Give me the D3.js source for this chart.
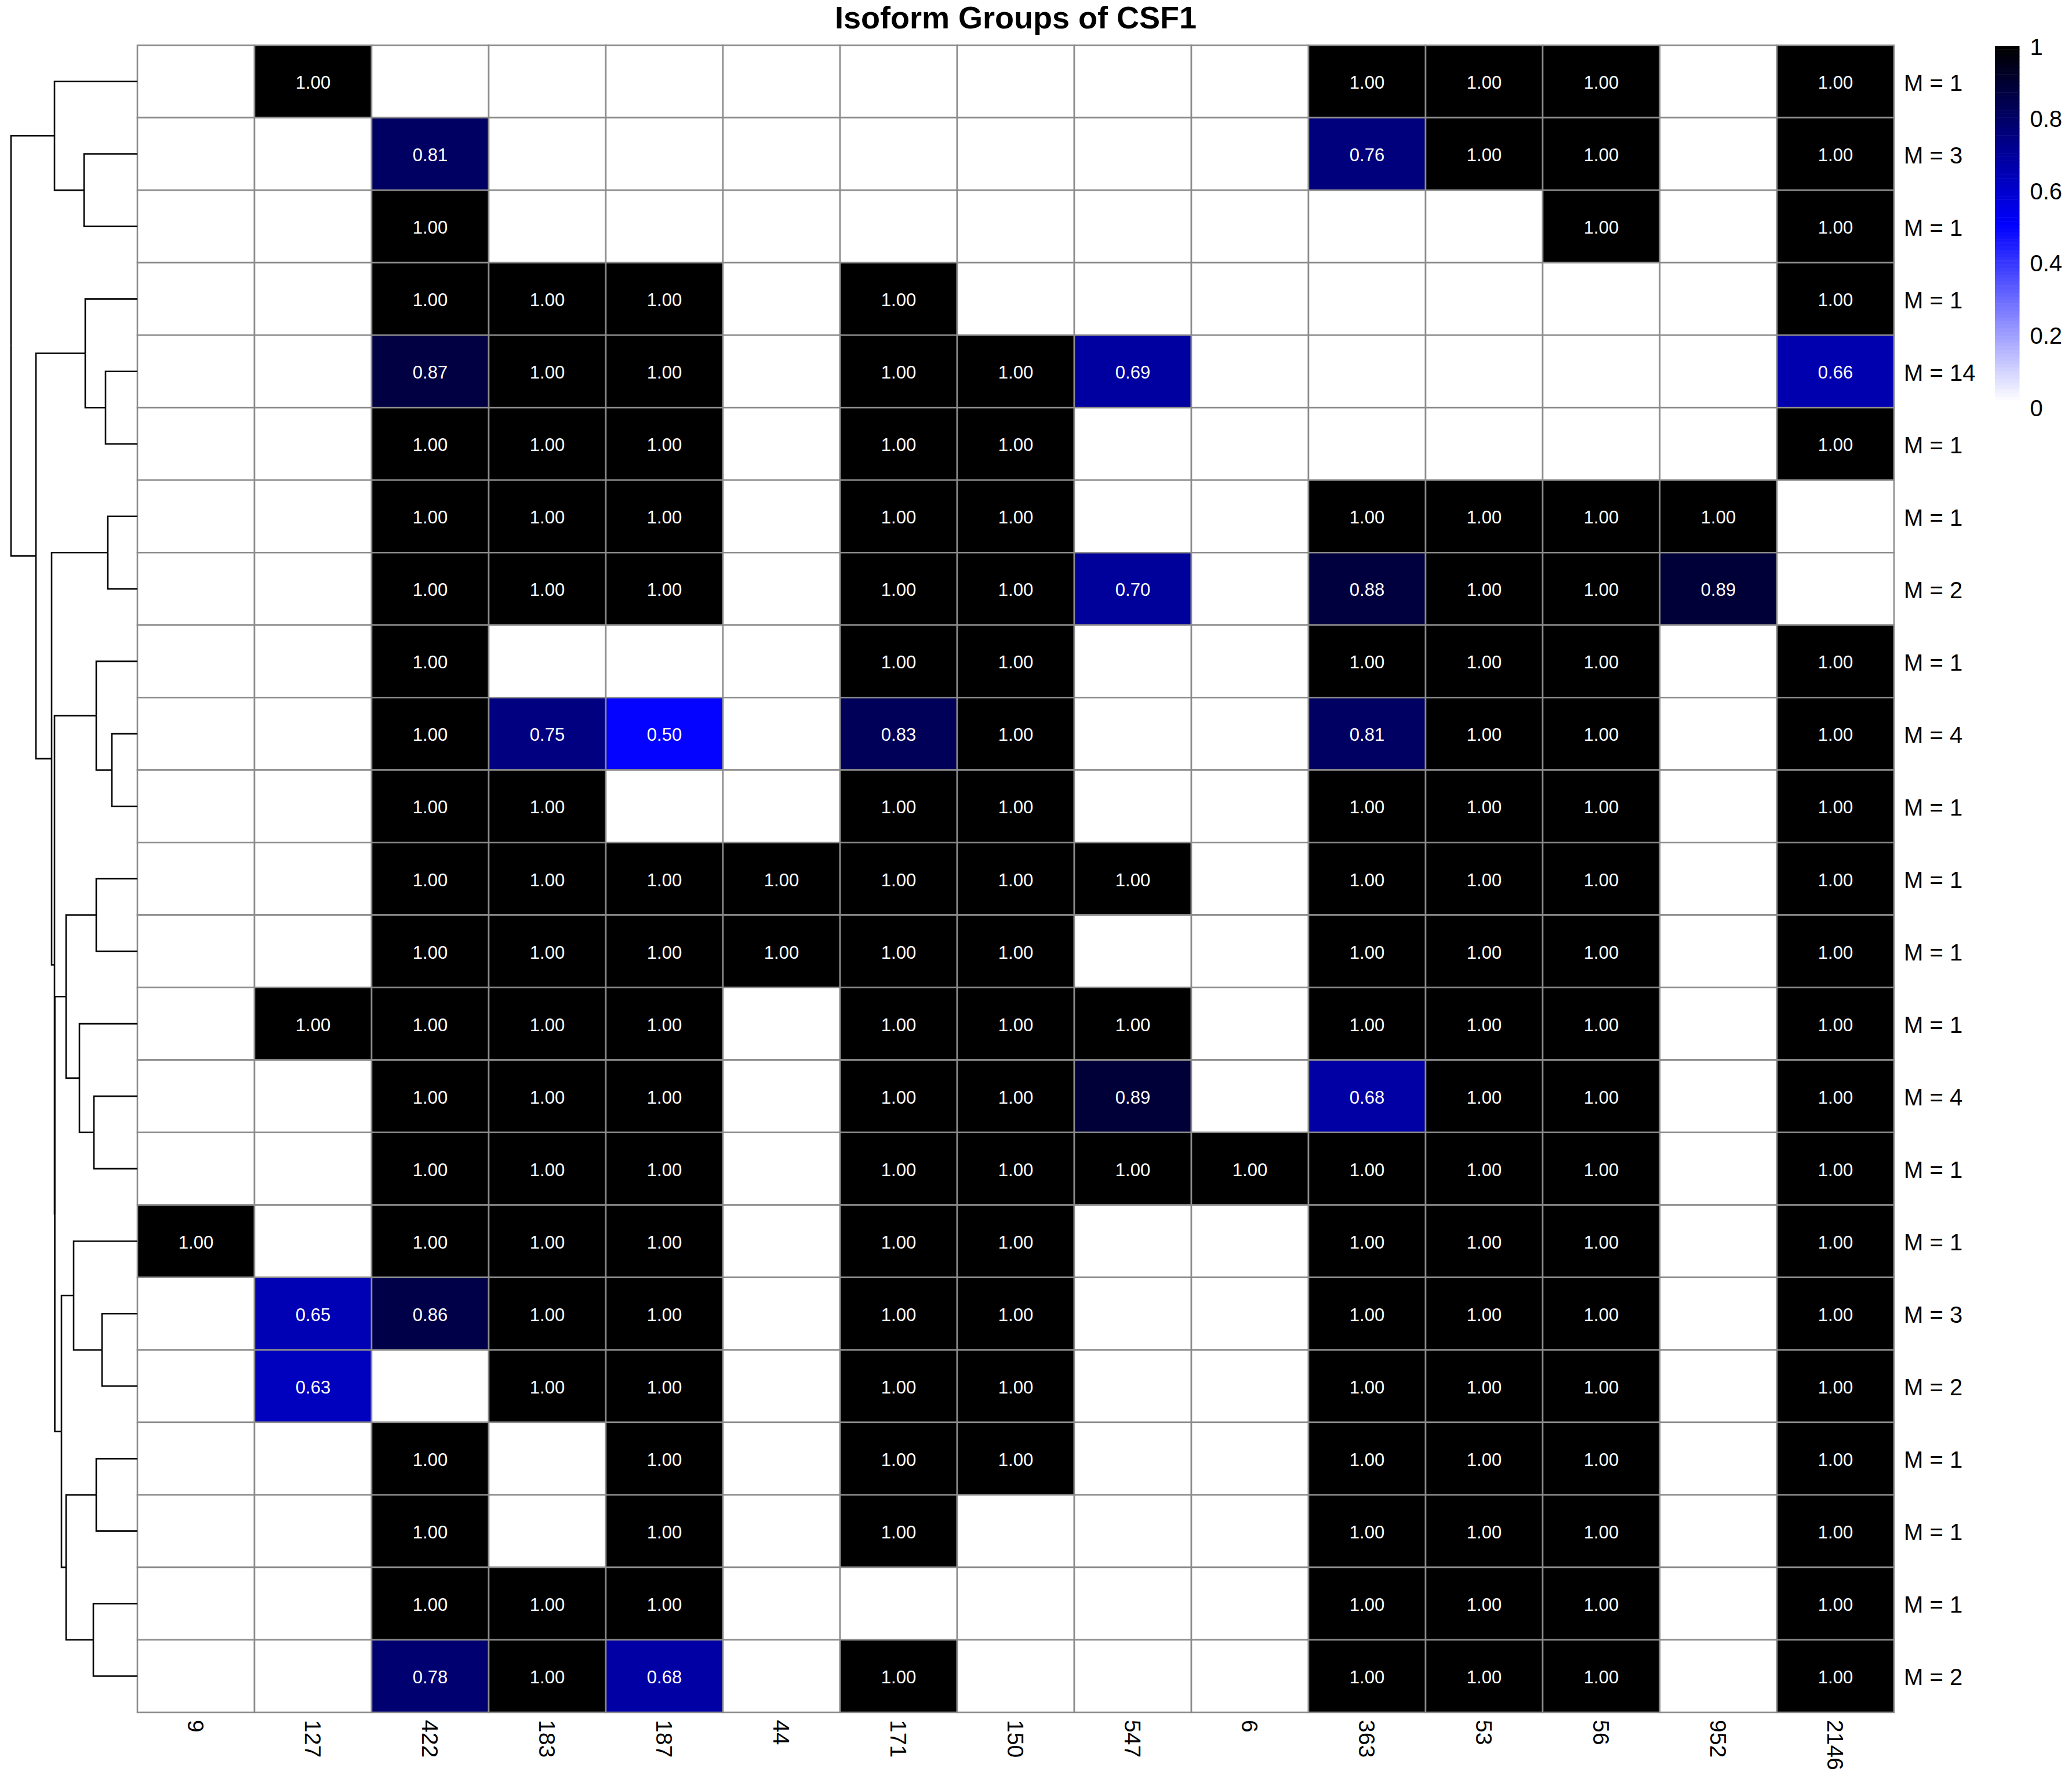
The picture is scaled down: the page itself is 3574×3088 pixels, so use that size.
<!DOCTYPE html>
<html>
<head>
<meta charset="utf-8">
<script src="https://cdn.jsdelivr.net/npm/d3@7"></script>
<style>
  html, body { margin: 0; padding: 0; background: #fff; }
  svg { display: block; }
  text { font-family: "Liberation Sans", Arial, Helvetica, sans-serif; }
</style>
</head>
<body>
<script>
// ---------------- DATA ----------------
const title = "Isoform Groups of CSF1";
const columns = ["9", "127", "422", "183", "187", "44", "171", "150", "547", "6", "363", "53", "56", "952", "2146"];
const rowLabels = ["M = 1", "M = 3", "M = 1", "M = 1", "M = 14", "M = 1", "M = 1", "M = 2", "M = 1", "M = 4",
                   "M = 1", "M = 1", "M = 1", "M = 1", "M = 4", "M = 1", "M = 1", "M = 3", "M = 2", "M = 1",
                   "M = 1", "M = 1", "M = 2"];
const _ = null;
// one array per row, in column order above (null = empty cell)
const row00 = [_, 1.00, _, _, _, _, _, _, _, _, 1.00, 1.00, 1.00, _, 1.00];
const row01 = [_, _, 0.81, _, _, _, _, _, _, _, 0.76, 1.00, 1.00, _, 1.00];
const row02 = [_, _, 1.00, _, _, _, _, _, _, _, _, _, 1.00, _, 1.00];
const row03 = [_, _, 1.00, 1.00, 1.00, _, 1.00, _, _, _, _, _, _, _, 1.00];
const row04 = [_, _, 0.87, 1.00, 1.00, _, 1.00, 1.00, 0.69, _, _, _, _, _, 0.66];
const row05 = [_, _, 1.00, 1.00, 1.00, _, 1.00, 1.00, _, _, _, _, _, _, 1.00];
const row06 = [_, _, 1.00, 1.00, 1.00, _, 1.00, 1.00, _, _, 1.00, 1.00, 1.00, 1.00, _];
const row07 = [_, _, 1.00, 1.00, 1.00, _, 1.00, 1.00, 0.70, _, 0.88, 1.00, 1.00, 0.89, _];
const row08 = [_, _, 1.00, _, _, _, 1.00, 1.00, _, _, 1.00, 1.00, 1.00, _, 1.00];
const row09 = [_, _, 1.00, 0.75, 0.50, _, 0.83, 1.00, _, _, 0.81, 1.00, 1.00, _, 1.00];
const row10 = [_, _, 1.00, 1.00, _, _, 1.00, 1.00, _, _, 1.00, 1.00, 1.00, _, 1.00];
const row11 = [_, _, 1.00, 1.00, 1.00, 1.00, 1.00, 1.00, 1.00, _, 1.00, 1.00, 1.00, _, 1.00];
const row12 = [_, _, 1.00, 1.00, 1.00, 1.00, 1.00, 1.00, _, _, 1.00, 1.00, 1.00, _, 1.00];
const row13 = [_, 1.00, 1.00, 1.00, 1.00, _, 1.00, 1.00, 1.00, _, 1.00, 1.00, 1.00, _, 1.00];
const row14 = [_, _, 1.00, 1.00, 1.00, _, 1.00, 1.00, 0.89, _, 0.68, 1.00, 1.00, _, 1.00];
const row15 = [_, _, 1.00, 1.00, 1.00, _, 1.00, 1.00, 1.00, 1.00, 1.00, 1.00, 1.00, _, 1.00];
const row16 = [1.00, _, 1.00, 1.00, 1.00, _, 1.00, 1.00, _, _, 1.00, 1.00, 1.00, _, 1.00];
const row17 = [_, 0.65, 0.86, 1.00, 1.00, _, 1.00, 1.00, _, _, 1.00, 1.00, 1.00, _, 1.00];
const row18 = [_, 0.63, _, 1.00, 1.00, _, 1.00, 1.00, _, _, 1.00, 1.00, 1.00, _, 1.00];
const row19 = [_, _, 1.00, _, 1.00, _, 1.00, 1.00, _, _, 1.00, 1.00, 1.00, _, 1.00];
const row20 = [_, _, 1.00, _, 1.00, _, 1.00, _, _, _, 1.00, 1.00, 1.00, _, 1.00];
const row21 = [_, _, 1.00, 1.00, 1.00, _, _, _, _, _, 1.00, 1.00, 1.00, _, 1.00];
const row22 = [_, _, 0.78, 1.00, 0.68, _, 1.00, _, _, _, 1.00, 1.00, 1.00, _, 1.00];
const matrix = [row00, row01, row02, row03, row04, row05, row06, row07, row08, row09, row10, row11,
                row12, row13, row14, row15, row16, row17, row18, row19, row20, row21, row22];

// row dendrogram: leaves are row indices, internal nodes carry merge heights
const dendrogram = {h: 2.18, c: [
  {h: 1.43, c: [0, {h: 0.92, c: [1, 2]}]},
  {h: 1.75, c: [
    {h: 0.90, c: [3, {h: 0.55, c: [4, 5]}]},
    {h: 1.48, c: [
      {h: 0.51, c: [6, 7]},
      {h: 1.43, c: [
        {h: 0.71, c: [8, {h: 0.44, c: [9, 10]}]},
        {h: 1.425, c: [
          {h: 1.23, c: [{h: 0.71, c: [11, 12]}, {h: 1.00, c: [13, {h: 0.75, c: [14, 15]}]}]},
          {h: 1.31, c: [
            {h: 1.10, c: [16, {h: 0.61, c: [17, 18]}]},
            {h: 1.23, c: [{h: 0.71, c: [19, 20]}, {h: 0.76, c: [21, 22]}]}
          ]}
        ]}
      ]}
    ]}
  ]}
]};

const legendTicks = [0, 0.2, 0.4, 0.6, 0.8, 1];
const paletteStops = ["#ffffff", "#0000ff", "#000000"];

// ---------------- LAYOUT ----------------
const W = 3574, H = 3088;
const gridL = 237, gridR = 3267, gridT = 78, gridB = 2954;
const dendroLeft = 19;
const fontLab = 40;

const svg = d3.select("body").append("svg")
  .attr("width", W).attr("height", H).attr("viewBox", `0 0 ${W} ${H}`);

const x = d3.scaleBand().domain(d3.range(columns.length)).range([gridL, gridR]).padding(0);
const y = d3.scaleBand().domain(d3.range(rowLabels.length)).range([gridT, gridB]).padding(0);

const interp = d3.piecewise(d3.interpolateRgb, paletteStops);
const nColors = 100;
const palette = d3.range(nColors).map(i => interp(i / (nColors - 1)));
const color = v => {
  if (v == null) return "#ffffff";
  const idx = Math.max(0, Math.min(nColors - 1, Math.ceil(v * nColors) - 1));
  return palette[idx];
};

// ---------------- HEATMAP ----------------
const cells = [];
matrix.forEach((row, r) => row.forEach((v, c) => cells.push({r, c, v})));

const gCells = svg.append("g");
gCells.selectAll("rect").data(cells).join("rect")
  .attr("x", d => x(d.c)).attr("y", d => y(d.r))
  .attr("width", x.bandwidth()).attr("height", y.bandwidth())
  .attr("fill", d => color(d.v))
  .attr("stroke", "#8c8c8c").attr("stroke-width", 2.6);

gCells.selectAll("text").data(cells.filter(d => d.v != null)).join("text")
  .attr("x", d => x(d.c) + x.bandwidth() / 2)
  .attr("y", d => y(d.r) + y.bandwidth() / 2 + 12.5)
  .attr("text-anchor", "middle")
  .attr("font-size", 31)
  .attr("fill", "#ffffff")
  .text(d => d3.format(".2f")(d.v));

// row labels
svg.append("g").selectAll("text").data(rowLabels).join("text")
  .attr("x", gridR + 17)
  .attr("y", (d, i) => y(i) + y.bandwidth() / 2 + 16)
  .attr("font-size", fontLab)
  .attr("fill", "#000")
  .text(d => d);

// column labels (rotated)
svg.append("g").selectAll("text").data(columns).join("text")
  .attr("transform", (d, i) => `translate(${x(i) + x.bandwidth() / 2 - 14},${gridB + 13}) rotate(90)`)
  .attr("font-size", 39)
  .attr("fill", "#000")
  .text(d => d);

// ---------------- DENDROGRAM ----------------
const root = d3.hierarchy(dendrogram, d => (typeof d === "number") ? null : d.c);
const hx = d3.scaleLinear().domain([0, dendrogram.h]).range([gridL, dendroLeft]);
root.eachAfter(n => {
  if (!n.children) {
    n.py = y(n.data) + y.bandwidth() / 2;
    n.px = hx(0);
  } else {
    n.py = d3.mean(n.children, c => c.py);
    n.px = hx(n.data.h);
  }
});
const paths = [];
root.each(n => {
  if (n.children) {
    n.children.forEach(c => {
      paths.push(`M${n.px},${n.py}V${c.py}H${c.px}`);
    });
  }
});
svg.append("g").selectAll("path").data(paths).join("path")
  .attr("d", d => d)
  .attr("fill", "none")
  .attr("stroke", "#000")
  .attr("stroke-width", 2.6);

// ---------------- TITLE ----------------
svg.append("text")
  .attr("x", (gridL + gridR) / 2)
  .attr("y", 49)
  .attr("text-anchor", "middle")
  .attr("font-size", 54)
  .attr("font-weight", "bold")
  .attr("fill", "#000")
  .text(title);

// ---------------- LEGEND ----------------
const legX = 3441, legW = 42.5;
const legY = d3.scaleLinear().domain([0, 1]).range([696, 79]);
const legLab = d3.scaleLinear().domain([0, 1]).range([703, 80]);
const gLeg = svg.append("g");
gLeg.selectAll("rect").data(palette).join("rect")
  .attr("x", legX)
  .attr("y", (d, i) => legY((i + 1) / nColors))
  .attr("width", legW)
  .attr("height", (d, i) => legY(i / nColors) - legY((i + 1) / nColors) + 0.5)
  .attr("fill", d => d);
gLeg.selectAll("text").data(legendTicks).join("text")
  .attr("x", legX + legW + 18)
  .attr("y", d => legLab(d) + 14.5)
  .attr("font-size", fontLab)
  .attr("fill", "#000")
  .text(d => d3.format("~g")(d));
</script>
</body>
</html>
